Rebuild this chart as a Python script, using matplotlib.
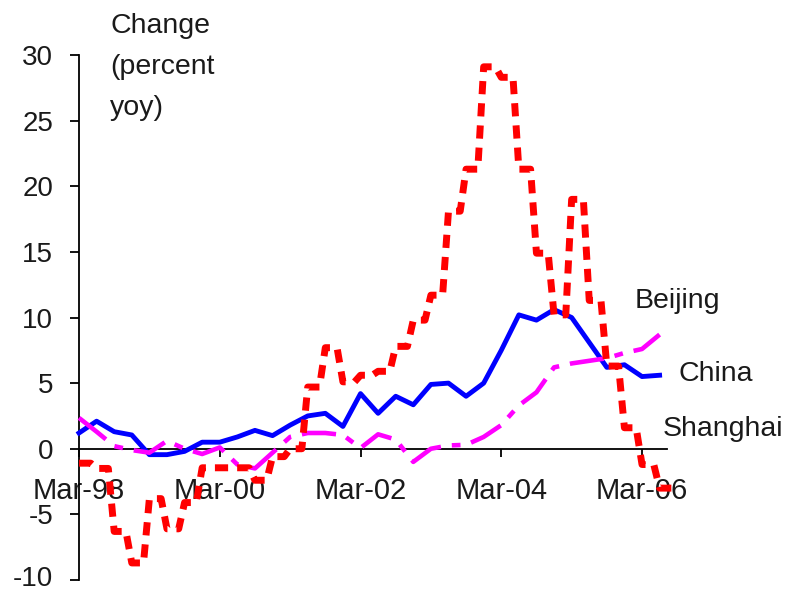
import matplotlib
matplotlib.use('Agg')
import matplotlib.pyplot as plt
from matplotlib.transforms import ScaledTranslation
import numpy as np

# ---- data ----
# quarterly series, Mar-98 .. Jun-06
china = [1.2, 2.1, 1.3, 1.05, -0.45, -0.45, -0.2, 0.5, 0.5, 0.9, 1.4, 1.0, 1.8, 2.5,
         2.7, 1.7, 4.2, 2.7, 4.0, 3.35, 4.9, 5.0, 4.0, 5.0, 7.5, 10.2, 9.8, 10.6, 10.0,
         8.1, 6.2, 6.4, 5.5, 5.6]
beijing = [2.35, 1.3, 0.2, -0.1, -0.3, 0.6, 0.0, -0.4, 0.1, -1.2, -1.5, -0.3, 0.9, 1.2,
           1.2, 1.05, 0.05, 1.1, 0.7, -1.0, 0.0, 0.25, 0.3, 0.9, 1.8, 3.3, 4.3, 6.2, 6.5,
           6.7, 6.9, 7.3, 7.6, 8.7]
# monthly series (quarterly figure reported each month), Mar-98 .. Aug-06
shanghai = [-1.1, -1.1, -1.1, -1.5, -1.5, -1.5, -6.3, -6.3, -6.3, -8.7, -8.7, -8.7,
            -3.8, -3.8, -3.8, -6.1, -6.1, -6.1, -4.1, -4.1, -4.1, -1.45, -1.45, -1.45,
            -1.45, -1.45, -1.45, -1.45, -1.45, -1.45, -2.4, -2.4, -2.4, -0.6, -0.6, -0.6,
            0.0, 0.0, 0.0, 4.7, 4.7, 4.7, 7.7, 7.7, 7.7, 5.1, 5.1, 5.1,
            5.6, 5.6, 5.6, 5.9, 5.9, 5.9, 7.8, 7.8, 7.8, 9.8, 9.8, 9.8,
            11.7, 11.7, 11.7, 18.1, 18.1, 18.1, 21.3, 21.3, 21.3, 29.1, 29.1, 29.1,
            28.3, 28.3, 28.3, 21.3, 21.3, 21.3, 14.9, 14.9, 14.9, 10.2, 10.2, 10.2,
            19.0, 19.0, 19.0, 11.3, 11.3, 11.3, 6.3, 6.3, 6.3, 1.6, 1.6, 1.6,
            -1.2, -1.2, -1.2, -3.0, -3.0, -3.0]
months_per_quarter = 3
tick_months = [0, 24, 48, 72, 96]
tick_labels = ['Mar-98', 'Mar-00', 'Mar-02', 'Mar-04', 'Mar-06']
y_ticks = [-10, -5, 0, 5, 10, 15, 20, 25, 30]
series_names = ['Beijing', 'China', 'Shanghai']
y_title = ['Change', '(percent', 'yoy)']

plt.rcParams['font.family'] = ['Liberation Sans', 'DejaVu Sans']
TXT = '#1a1a1a'

W, H = 787, 593
fig = plt.figure(figsize=(W / 100, H / 100), dpi=100)
ax = fig.add_axes([79 / W, 1 - 580 / H, (667 - 79) / W, (580 - 55) / H])

xq = np.arange(len(china)) * months_per_quarter
xm = np.arange(len(shanghai))

ax.plot(xq, china, color='#0000FF', lw=3.5, solid_joinstyle='round', zorder=3, clip_on=False)
ax.plot(xq, beijing, color='#FF00FF', lw=3.3, dashes=(7.5, 2.4, 1.9, 2.4), zorder=4,
        clip_on=False)
ax.plot(xm, shanghai, color='#FF0000', lw=5.0, dashes=(1.9, 1.3), dash_capstyle='butt',
        zorder=5, clip_on=False)

ax.set_xlim(0, 100.26)
ax.set_ylim(-10, 30)

for s in ['top', 'right']:
    ax.spines[s].set_visible(False)
ax.spines['bottom'].set_position(('data', 0))
ax.spines['bottom'].set_bounds(0, 100.26)
for s in ['left', 'bottom']:
    ax.spines[s].set_linewidth(1.3)
    ax.spines[s].set_color('black')

ax.set_yticks(y_ticks)
ax.set_yticklabels([str(v) for v in y_ticks])
ax.set_xticks(tick_months)
ax.set_xticklabels(tick_labels)
ax.tick_params(axis='y', direction='out', length=6.5, width=1.3, pad=12,
               labelsize=20, labelcolor=TXT)
ax.tick_params(axis='x', direction='out', length=6, width=1.3, pad=14,
               labelsize=21, labelcolor=TXT)

# keep the lowest y label fully inside the canvas
lowest = ax.get_yticklabels()[0]
lowest.set_transform(lowest.get_transform() + ScaledTranslation(0, 3 / 72, fig.dpi_scale_trans))

def ftext(px, py, s, **kw):
    fig.text(px / W, 1 - py / H, s, va='baseline', ha='left', color=TXT, **kw)

for line, base in zip(y_title, [33, 74, 115]):
    ftext(110, base, line, fontsize=20.5)

ftext(635, 308, series_names[0], fontsize=20.5)
ftext(678, 381, series_names[1], fontsize=20.5)
ftext(663, 436, series_names[2], fontsize=20.5)

fig.savefig('out.png', dpi=100)
